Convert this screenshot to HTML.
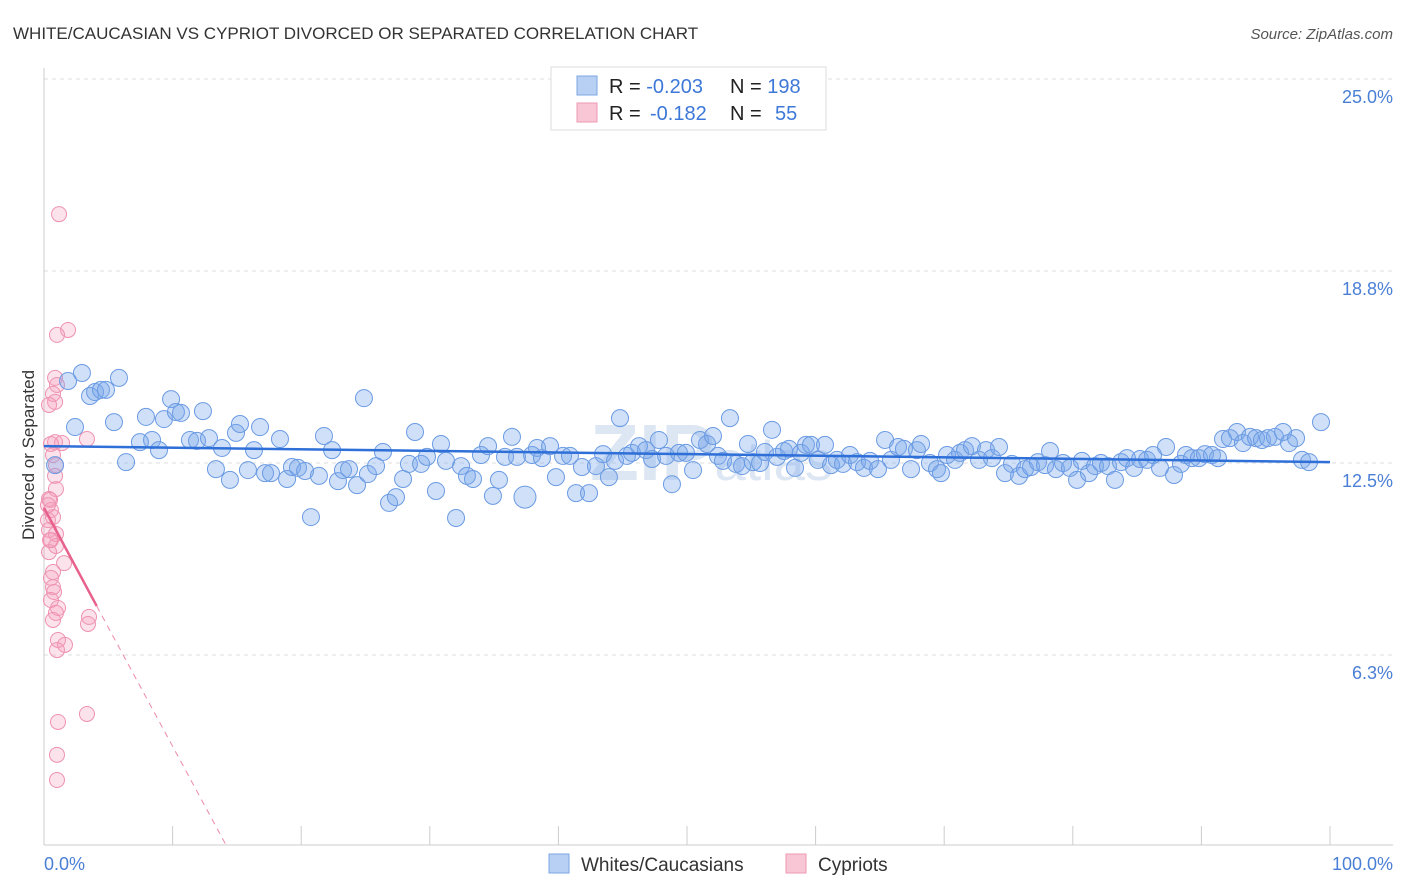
<!DOCTYPE html>
<html><head><meta charset="utf-8">
<style>
body{margin:0;background:#fff;font-family:"Liberation Sans",sans-serif}
svg{display:block}
text{font-family:"Liberation Sans",sans-serif}
</style></head>
<body>
<svg id="chart" width="1406" height="892">
<text x="13" y="39" font-size="17" fill="#333">WHITE/CAUCASIAN VS CYPRIOT DIVORCED OR SEPARATED CORRELATION CHART</text>
<text x="1393" y="39" font-size="15" fill="#555" text-anchor="end" font-style="italic">Source: ZipAtlas.com</text>
<g id="grid"></g>
<g id="axes"></g>
<text x="590" y="480" font-size="80" fill="#dde6f3" font-weight="bold">ZIP<tspan font-size="56" font-weight="normal">atlas</tspan></text>
<g id="pink"></g>
<g id="blue"></g>
<g id="trends"></g>
<text transform="translate(34,455) rotate(-90)" font-size="17" fill="#333" text-anchor="middle">Divorced or Separated</text>
<text x="44" y="870" font-size="18" fill="#4a7fd6">0.0%</text>
<text x="1393" y="870" font-size="18" fill="#4a7fd6" text-anchor="end">100.0%</text>
<g>
<rect x="551" y="67" width="275" height="63" fill="#fff" stroke="#ddd"/>
<rect x="577" y="76" width="20" height="19" fill="#b8d0f3" stroke="#7ea6e3"/>
<rect x="577" y="103" width="20" height="19" fill="#f8c6d4" stroke="#ee9ab3"/>
<text x="609" y="93" font-size="20" fill="#222">R = <tspan fill="#3d78d8">-0.203</tspan><tspan x="730">N = </tspan><tspan fill="#3d78d8">198</tspan></text>
<text x="609" y="120" font-size="20" fill="#222">R = <tspan x="650" fill="#3d78d8">-0.182</tspan><tspan x="730">N = </tspan><tspan x="775" fill="#3d78d8">55</tspan></text>
</g>
<g>
<rect x="549" y="854" width="20" height="19" fill="#b8d0f3" stroke="#7ea6e3"/>
<text x="581" y="871" font-size="19" fill="#333">Whites/Caucasians</text>
<rect x="786" y="854" width="20" height="19" fill="#f8c6d4" stroke="#ee9ab3"/>
<text x="818" y="871" font-size="19" fill="#333">Cypriots</text>
</g>
</svg>
<script>
const yTicks=[6.25,12.5,18.75,25];
const yTickLabels=["6.3%","12.5%","18.8%","25.0%"];
const xTicks=[0,10,20,30,40,50,60,70,80,90,100];
const blueX=[0.86,1.87,2.41,2.95,3.58,3.97,4.43,4.82,5.44,5.83,6.38,7.46,7.93,8.40,8.94,9.33,9.88,10.26,10.65,11.35,11.90,12.36,12.83,13.37,13.84,14.46,14.93,15.24,15.86,16.33,16.80,17.19,17.65,18.35,18.90,19.28,19.75,20.30,20.76,21.38,21.77,22.40,22.86,23.25,23.72,24.34,24.88,25.19,25.82,26.36,26.83,27.37,27.92,28.38,28.85,29.32,29.78,30.48,30.87,31.26,32.04,32.43,32.89,33.36,33.98,34.53,34.91,35.38,35.85,36.39,36.78,37.40,37.95,38.34,38.72,39.35,39.81,40.36,40.90,41.37,41.83,42.38,42.92,43.47,43.93,44.40,44.79,45.33,45.72,46.27,46.81,47.28,47.82,48.37,48.83,49.38,49.92,50.47,51.01,51.56,52.02,52.41,52.80,53.34,53.81,54.28,54.74,55.13,55.68,56.06,56.61,57.00,57.54,57.93,58.40,58.86,59.25,59.64,60.19,60.73,61.20,61.66,62.13,62.67,63.22,63.76,64.23,64.85,65.40,65.86,66.41,66.87,67.42,67.88,68.20,68.89,69.44,69.75,70.22,70.84,71.23,71.62,72.16,72.71,73.25,73.72,74.26,74.73,75.27,75.82,76.28,76.75,77.29,77.84,78.23,78.69,79.24,79.78,80.33,80.71,81.26,81.73,82.19,82.74,83.28,83.75,84.21,84.76,85.23,85.77,86.24,86.78,87.25,87.87,88.41,88.80,89.27,89.81,90.28,90.82,91.29,91.68,92.22,92.77,93.23,93.78,94.25,94.71,95.18,95.72,96.35,96.81,97.36,97.82,98.37,99.30];
const blueY=[12.43,15.17,13.67,15.43,14.68,14.81,14.88,14.88,13.83,15.27,12.53,13.18,14.0,13.25,12.92,13.93,14.58,14.16,14.13,13.25,13.22,14.19,13.31,12.30,12.99,11.95,13.48,13.77,12.27,12.92,13.67,12.17,12.17,13.28,11.98,12.37,12.34,12.24,10.74,12.08,13.38,12.92,11.91,12.27,12.30,11.78,14.61,12.14,12.40,12.86,11.20,11.39,11.98,12.47,13.51,12.47,12.70,11.59,13.12,12.57,10.71,12.40,12.08,11.98,12.76,13.05,11.43,11.95,12.70,13.35,12.70,11.39,12.76,12.99,12.66,13.05,12.04,12.73,12.73,11.52,12.37,11.52,12.40,12.79,12.04,12.57,13.96,12.73,12.83,13.05,12.92,12.63,13.25,12.73,11.81,12.83,12.83,12.27,13.25,13.12,13.38,12.73,12.57,13.96,12.47,12.40,13.12,12.53,12.50,12.86,13.58,12.70,12.89,12.96,12.34,12.83,13.09,13.09,12.60,13.09,12.43,12.60,12.47,12.76,12.53,12.34,12.57,12.30,13.25,12.60,13.02,12.96,12.30,12.92,13.12,12.50,12.30,12.17,12.76,12.60,12.83,12.92,13.05,12.60,12.92,12.66,13.02,12.17,12.47,12.08,12.30,12.37,12.53,12.43,12.89,12.30,12.50,12.34,11.95,12.57,12.17,12.40,12.50,12.40,11.95,12.53,12.66,12.34,12.63,12.60,12.76,12.34,13.02,12.11,12.47,12.76,12.66,12.66,12.79,12.76,12.66,13.28,13.31,13.51,13.15,13.35,13.31,13.25,13.31,13.35,13.51,13.15,13.31,12.60,12.53,13.83];
const pinkX=[1.17,1.87,1.01,0.86,1.01,0.70,0.86,0.39,0.86,1.40,3.34,0.54,0.70,0.93,0.86,0.93,0.39,0.54,0.31,0.70,0.39,0.93,0.54,0.93,0.39,1.56,0.70,0.54,0.70,0.78,0.54,1.09,0.93,0.70,3.50,3.42,1.09,1.63,1.01,3.34,1.09,1.01,1.01,0.47,0.31,0.47];
const pinkY=[20.60,16.83,16.67,15.27,15.04,14.75,14.49,14.39,13.18,13.15,13.28,13.12,12.76,12.43,12.08,11.65,11.33,10.97,10.64,10.74,10.32,10.19,9.99,9.80,9.60,9.24,8.95,8.76,8.46,8.30,8.04,7.78,7.62,7.39,7.49,7.26,6.74,6.58,6.41,4.33,4.07,3.00,2.18,11.30,11.13,9.99];
const blueTrend=[13.05,12.53]; // y at x=0 and x=100
const pinkTrend=[11.04,-0.78]; // intercept, slope per %
const pinkSolidEnd=4.1;

const NS="http://www.w3.org/2000/svg";
const sx=v=>44+v*12.86;
const sy=v=>847-v*30.72;
function mk(tag,attrs,parent){const e=document.createElementNS(NS,tag);for(const k in attrs)e.setAttribute(k,attrs[k]);parent.appendChild(e);return e;}
const grid=document.getElementById('grid'),axes=document.getElementById('axes');
yTicks.forEach((t,i)=>{
  const l=mk('line',{x1:44,x2:1393,y1:sy(t),y2:sy(t),stroke:'#ddd','stroke-dasharray':'4,4'},grid);
  
  
  const tx=mk('text',{x:1393,y:sy(t)+24,'font-size':18,fill:'#4a7fd6','text-anchor':'end'},axes);
  tx.textContent=yTickLabels[i];
  
  
});
const yl=mk('line',{x1:44,x2:44,y1:68,y2:845,stroke:'#ccc'},axes);


const xl=mk('line',{x1:44,x2:1393,y1:845,y2:845,stroke:'#ccc'},axes);


xTicks.forEach(t=>{
  const l=mk('line',{x1:sx(t),x2:sx(t),y1:826,y2:845,stroke:'#ccc'},axes);
  
  
});
const pg=document.getElementById('pink');
pinkX.forEach((x,i)=>{
  const c=mk('circle',{cx:sx(x),cy:sy(pinkY[i]),r:7.5,fill:'rgba(244,160,188,0.3)',stroke:'#ee92b0','stroke-width':1},pg);
  
  
});
const bg=document.getElementById('blue');
blueX.forEach((x,i)=>{
  const r=(i===71)?11:8.5;
  const c=mk('circle',{cx:sx(x),cy:sy(blueY[i]),r:r,fill:'rgba(120,165,235,0.35)',stroke:'#6b9be3','stroke-width':1},bg);
  
  
});
const tg=document.getElementById('trends');
const bt=mk('line',{x1:sx(0),y1:sy(blueTrend[0]),x2:sx(100),y2:sy(blueTrend[1]),stroke:'#2e6fd8','stroke-width':2.5},tg);


const pAt=x=>pinkTrend[0]+pinkTrend[1]*x;
const ps=mk('line',{x1:sx(0),y1:sy(pAt(0)),x2:sx(pinkSolidEnd),y2:sy(pAt(pinkSolidEnd)),stroke:'#e8608c','stroke-width':2.5},tg);


const xEnd=Math.min(-pinkTrend[0]/pinkTrend[1],100);
const pd=mk('line',{x1:sx(pinkSolidEnd),y1:sy(pAt(pinkSolidEnd)),x2:sx(xEnd),y2:Math.min(sy(pAt(xEnd)),845),stroke:'#eb8aa8','stroke-width':1,'stroke-dasharray':'6,5'},tg);


</script>
</body></html>
